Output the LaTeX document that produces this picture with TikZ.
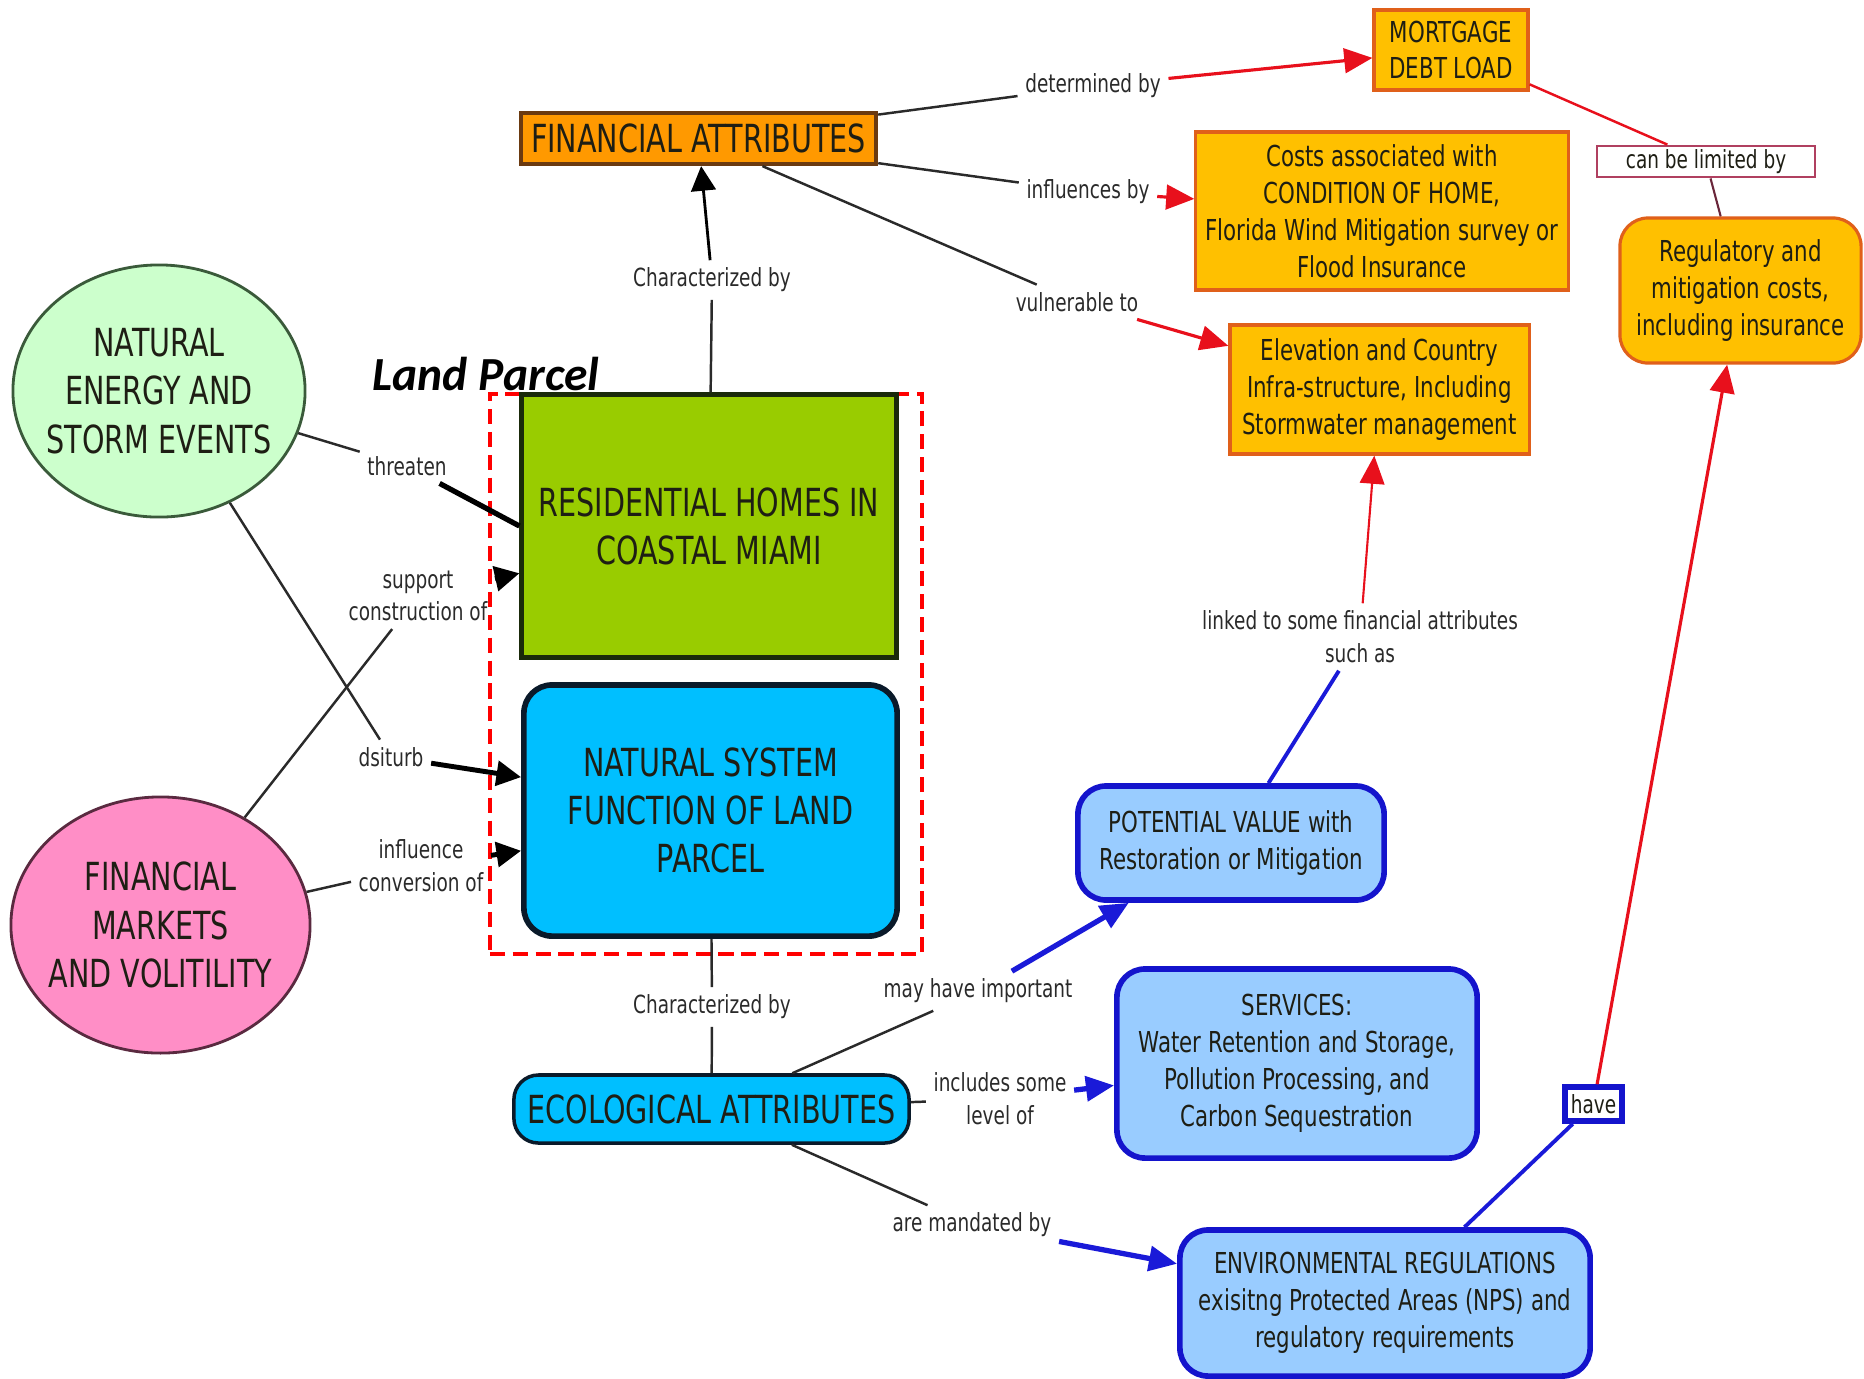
\documentclass[tikz,border=0pt]{standalone}
\usepackage{fontspec}
\setmainfont{DejaVu Sans}[FakeStretch=0.74]
\newfontfamily\parcelfont{Carlito}
\usepackage{xcolor}
\usetikzlibrary{arrows.meta,shapes.geometric}
\definecolor{finorange}{HTML}{FF9900}
\definecolor{finborder}{HTML}{6B3A10}
\definecolor{gold}{HTML}{FFC000}
\definecolor{goldborder}{HTML}{E0601A}
\definecolor{limitborder}{HTML}{B04060}
\definecolor{natgreen}{HTML}{CCFFCC}
\definecolor{natborder}{HTML}{3A5A3A}
\definecolor{pink}{HTML}{FF8EC6}
\definecolor{pinkborder}{HTML}{5A2A40}
\definecolor{resgreen}{HTML}{99CC00}
\definecolor{resborder}{HTML}{1A2A0A}
\definecolor{sky}{HTML}{00BFFF}
\definecolor{skyborder}{HTML}{0A1A2A}
\definecolor{paleblue}{HTML}{99CCFF}
\definecolor{boxblue}{HTML}{1414CC}
\definecolor{arrred}{HTML}{E8101C}
\definecolor{arrblue}{HTML}{1A1AD8}
\definecolor{linkgray}{HTML}{2A2A2A}
\definecolor{boxtext}{HTML}{1E1E14}
\newcommand{\bigtext}{\fontsize{11}{13.7}\selectfont}
\newcommand{\midtext}{\fontsize{8.2}{10.5}\selectfont}
\newcommand{\smalltext}{\fontsize{7.1}{9.3}\selectfont}

\begin{document}
\begin{tikzpicture}[x=0.01cm, y=-0.01cm,
  box/.style={align=center, inner sep=0pt, text=boxtext},
  finattr/.style={box, draw=finborder, fill=finorange, line width=1.2pt,
                  font=\bigtext},
  costbox/.style={box, draw=goldborder, fill=gold, line width=0.9pt, font=\midtext},
  regbox/.style={costbox, rounded corners=8pt},
  limitbox/.style={box, draw=limitborder, fill=white, line width=0.8pt,
                   font=\smalltext},
  force/.style={box, ellipse, inner sep=-0.1cm, line width=0.8pt, font=\bigtext},
  homes/.style={box, draw=resborder, fill=resgreen, line width=1.4pt, font=\bigtext},
  natsys/.style={box, draw=skyborder, fill=sky, line width=1.6pt,
                 rounded corners=8pt, font=\bigtext},
  ecoattr/.style={box, draw=skyborder, fill=sky, line width=1pt,
                  rounded corners=7pt, font=\bigtext},
  bluebox/.style={box, draw=boxblue, fill=paleblue, line width=1.6pt,
                  rounded corners=8pt, font=\midtext},
  havebox/.style={box, draw=boxblue, fill=white, line width=1.6pt, font=\smalltext},
  parcel/.style={draw=red, line width=1pt, dash pattern=on 4.3pt off 2.2pt},
  lbl/.style={align=center, inner sep=2pt, text=linkgray, font=\smalltext},
  plain/.style={draw=linkgray, line width=0.7pt},
  heavy/.style={draw=black, line width=1.5pt},
  blkarrow/.style={-{Triangle[length=7pt,width=7pt]}, draw=black, line width=1.4pt},
  redarrow/.style={-{Triangle[length=8pt,width=7pt]}, draw=arrred, line width=0.9pt},
  bluearrow/.style={-{Triangle[length=8pt,width=7pt]}, draw=arrblue, line width=1.5pt}
]
  \useasboundingbox (0,0) rectangle (1864,1378);
  \clip (0,0) rectangle (1864,1378);

  % financial side
  \node[finattr, minimum width=3.55cm, minimum height=0.51cm] (fin) at (698.5,138.5)
    {FINANCIAL ATTRIBUTES};
  \node[costbox, minimum width=1.54cm, minimum height=0.80cm] (mortgage) at (1451,50)
    {MORTGAGE\\DEBT LOAD};
  \node[costbox, minimum width=3.72cm, minimum height=1.58cm] (costs) at (1382,211)
    {Costs associated with\\CONDITION OF HOME,\\Florida Wind Mitigation survey or\\Flood Insurance};
  \node[costbox, minimum width=2.99cm, minimum height=1.29cm] (elevation) at (1379.5,389.5)
    {Elevation and Country\\Infra-structure, Including\\Stormwater management};
  \node[limitbox, minimum width=2.18cm, minimum height=0.31cm] (limited) at (1706,161.5)
    {can be limited by};
  \node[regbox, minimum width=2.41cm, minimum height=1.45cm] (regcosts) at (1740.5,290.5)
    {Regulatory and\\mitigation costs,\\including insurance};

  % drivers
  \node[force, draw=natborder, fill=natgreen, minimum width=2.92cm, minimum height=2.52cm]
    (storms) at (159,391) {NATURAL\\ENERGY AND\\STORM EVENTS};
  \node[force, draw=pinkborder, fill=pink, minimum width=2.99cm, minimum height=2.56cm]
    (markets) at (160.5,925) {FINANCIAL\\MARKETS\\AND VOLITILITY};

  % land parcel
  \node[parcel, minimum width=4.32cm, minimum height=5.60cm] (parcel) at (706,674) {};
  \node[anchor=base, inner sep=0pt, font={\parcelfont\fontsize{13.5}{16}\selectfont\bfseries\itshape}]
    (parceltitle) at (486,390) {Land Parcel};
  \node[homes, minimum width=3.74cm, minimum height=2.62cm] (homes) at (709,526)
    {RESIDENTIAL HOMES IN\\COASTAL MIAMI};
  \node[natsys, minimum width=3.73cm, minimum height=2.51cm] (natsys) at (710.5,810.5)
    {NATURAL SYSTEM\\FUNCTION OF LAND\\PARCEL};

  % ecological side
  \node[ecoattr, minimum width=3.95cm, minimum height=0.68cm] (eco) at (711.5,1109)
    {ECOLOGICAL ATTRIBUTES};
  \node[bluebox, minimum width=3.06cm, minimum height=1.14cm] (potential) at (1231,843)
    {POTENTIAL VALUE with\\Restoration or Mitigation};
  \node[bluebox, minimum width=3.60cm, minimum height=1.89cm] (services) at (1297,1063.5)
    {SERVICES:\\Water Retention and Storage,\\Pollution Processing, and\\Carbon Sequestration};
  \node[bluebox, minimum width=4.10cm, minimum height=1.46cm] (envreg) at (1385,1303)
    {ENVIRONMENTAL REGULATIONS\\exisitng Protected Areas (NPS) and\\regulatory requirements};
  \node[havebox, minimum width=0.57cm, minimum height=0.34cm] (have) at (1593.5,1104) {have};

  % linking phrases
  \node[lbl] (determined) at (1093,86) {determined by};
  \node[lbl] (influences) at (1088,192) {influences by};
  \node[lbl] (vulnerable) at (1077,302) {vulnerable to};
  \node[lbl] (chartop) at (712,280) {Characterized by};
  \node[lbl] (threaten) at (407,466) {threaten};
  \node[lbl] (support) at (418,596) {support\\construction of};
  \node[lbl] (disturb) at (391,757) {dsiturb};
  \node[lbl] (influence) at (421,866) {influence\\conversion of};
  \node[lbl] (charbot) at (712,1007) {Characterized by};
  \node[lbl] (mayhave) at (978,991) {may have important};
  \node[lbl] (includes) at (1000,1099) {includes some\\level of};
  \node[lbl] (mandated) at (972,1225) {are mandated by};
  \node[lbl] (linked) at (1360,637) {linked to some financial attributes\\such as};

  \draw[plain] (fin) -- (determined);
  \draw[redarrow] (determined) -- (mortgage);
  \draw[plain] (fin) -- (influences);
  \draw[redarrow] (influences) -- (costs);
  \draw[plain] (fin) -- (vulnerable);
  \draw[redarrow] (vulnerable) -- (elevation);
  \draw[draw=arrred, line width=0.7pt] (mortgage) -- (limited);
  \draw[draw=limitborder!60!black, line width=0.6pt] (limited) -- (regcosts);
  \draw[plain] (homes) -- (chartop);
  \draw[blkarrow, line width=0.8pt] (chartop) -- (fin);

  \draw[plain] (storms) -- (threaten);
  \draw[heavy] (threaten) -- (homes.west);
  \draw[plain] (markets) -- (support);
  \draw[blkarrow] (support) -- (homes.194);
  \draw[plain] (storms) -- (disturb);
  \draw[blkarrow] (disturb) -- (natsys.170);
  \draw[plain] (markets) -- (influence);
  \draw[blkarrow] (influence) -- (natsys.192);

  \draw[plain] (natsys) -- (charbot);
  \draw[plain] (charbot) -- (eco);
  \draw[plain] (eco) -- (mayhave);
  \draw[bluearrow] (mayhave) -- (potential);
  \draw[plain] (eco) -- (includes);
  \draw[bluearrow] (includes) -- (services);
  \draw[plain] (eco) -- (mandated);
  \draw[bluearrow] (mandated) -- (envreg);
  \draw[draw=arrblue, line width=1.1pt] (potential) -- (linked);
  \draw[redarrow, line width=0.6pt] (linked) -- (elevation);
  \draw[draw=arrblue, line width=1.1pt] (envreg) -- (have);
  \draw[redarrow] (have) -- (regcosts);
\end{tikzpicture}
\end{document}
